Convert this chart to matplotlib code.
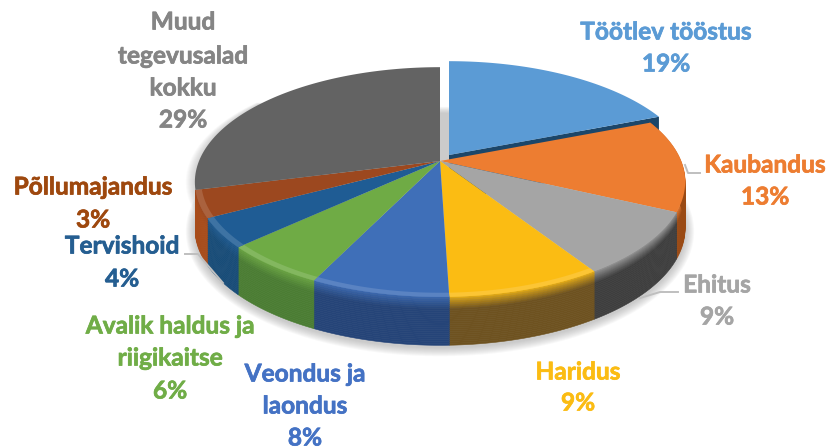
import numpy as np
import matplotlib
matplotlib.use('Agg')
import matplotlib.pyplot as plt
import matplotlib.patheffects as pe
from matplotlib.colors import to_rgb

# Data (slice sizes, the printed labels are rounded)
names = ['Töötlev tööstus', 'Kaubandus', 'Ehitus', 'Haridus', 'Veondus ja laondus',
         'Avalik haldus ja riigikaitse', 'Tervishoid', 'Põllumajandus', 'Muud tegevusalad kokku']
shares = [19, 13, 8.9, 8.6, 7.7, 5.9, 4.1, 3.8, 29]
top_colors = ['#5b9bd5', '#ed7d31', '#a5a5a5', '#fbbc13', '#3f6fb8',
              '#6fab45', '#1f5c94', '#9c481f', '#636363']
side_colors = ['#1c4669', '#9a4a14', '#3e3e3e', '#6e5220', '#254478',
               '#4b7d33', '#184c78', '#a84c1a', '#4a4a4a']
text_colors = ['#5b9bd5', '#ed7d31', '#a5a5a5', '#fbbc13', '#4472c4',
               '#70ad47', '#255e91', '#9e480e', '#858585']

# Label lines: slice index, text, centre x, centre y
label_lines = [
    (8, 'Muud', 183, 22), (8, 'tegevusalad', 183, 56), (8, 'kokku', 183, 88), (8, '29%', 183, 120),
    (0, 'Töötlev tööstus', 666, 32), (0, '19%', 666, 64),
    (1, 'Kaubandus', 765, 165), (1, '13%', 765, 197),
    (2, 'Ehitus', 717, 285), (2, '9%', 717, 317),
    (3, 'Haridus', 578, 372), (3, '9%', 578, 403),
    (4, 'Veondus ja', 305, 374), (4, 'laondus', 305, 406), (4, '8%', 305, 438),
    (5, 'Avalik haldus ja', 170, 326), (5, 'riigikaitse', 170, 358), (5, '6%', 170, 391),
    (6, 'Tervishoid', 122, 246), (6, '4%', 122, 279),
    (7, 'Põllumajandus', 93, 187), (7, '3%', 93, 220),
]
leaders = [
    ([640, 660, 678], [298, 292, 292]),
    ([185, 198, 223], [254, 254, 283]),
    ([685, 688, 700], [165, 173, 173]),
]

# Perspective of the pie in pixels
cx, cy = 440, 161
rx, ry = 241, 111
k = 0.183
ry_low, drop = 113, 46
explode = (9, -6)


def rim(t, r=1.0, low=False, off=(0, 0)):
    # t is clockwise from 12 o'clock, in radians
    w = 1 + k * r * np.cos(t)
    x = cx + rx * r * np.sin(t) / w + off[0]
    if low:
        y = cy + drop - ry_low * r * np.cos(t) / w + off[1]
    else:
        y = cy - ry * r * np.cos(t) / w + off[1]
    return x, y


def mix(a, b, f):
    a, b = np.array(to_rgb(a)), np.array(to_rgb(b))
    return tuple(a + (b - a) * f)


fig = plt.figure(figsize=(8.26, 4.48), dpi=100)
ax = fig.add_axes([0, 0, 1, 1])
ax.set_xlim(0, 826)
ax.set_ylim(448, 0)
ax.axis('off')

edges = np.cumsum([0] + shares) / sum(shares) * 2 * np.pi

# Soft shadow under the pie
tt = np.linspace(0, 2 * np.pi, 200)
for grow in np.linspace(9, 1, 9):
    x, y = rim(tt, low=True)
    x = cx + (x - cx) * (1 + grow / 245)
    y = (cy + 50) + (y - (cy + 50)) * (1 + grow / 135) + 2
    ax.fill(x, y, color='#808080', alpha=0.05, lw=0, zorder=1)
    x, y = rim(tt[100:170])
    x = cx + (x - cx) * (1 + grow / 245)
    ax.fill(x, y, color='#808080', alpha=0.04, lw=0, zorder=1)

# Exploded slice: cut face seen under its edge
off = explode
xe, ye = rim(edges[1], off=off)
xl, yl = rim(edges[1], low=True, off=off)
ax.fill([cx + off[0], xe, xl, cx + off[0]], [cy + off[1], ye, yl, cy + off[1] + drop],
        color=side_colors[0], lw=0, zorder=2)

z = 3
for i in range(len(shares)):
    off = explode if i == 0 else (0, 0)
    ts = np.linspace(edges[i], edges[i + 1], 80)

    # Side wall, fading down from the rim in bands
    if i != 0 and i != 8:
        vs = np.linspace(0, 1, 26)
        xt, yt = rim(ts, off=off)
        xb, yb = rim(ts, low=True, off=off)
        for v0, v1 in zip(vs[:-1], vs[1:]):
            f = min(v1 / 0.28, 1) ** 0.8
            c = mix(top_colors[i], side_colors[i], f)
            bx = np.r_[xt + (xb - xt) * v0, (xt + (xb - xt) * v1)[::-1]]
            by = np.r_[yt + (yb - yt) * v0, (yt + (yb - yt) * v1)[::-1]]
            ax.fill(bx, by, color=c, lw=0.4, zorder=z)
    z += 1

    # Top face
    x, y = rim(ts, off=off)
    ax.fill(np.r_[cx + off[0], x], np.r_[cy + off[1], y], color=top_colors[i], lw=0, zorder=z)
    z += 1

    # Light band just inside the front rim
    if 3 <= i <= 7:
        x0, y0 = rim(ts, 0.975, off=off)
        x1, y1 = rim(ts[::-1], 1.0, off=off)
        ax.fill(np.r_[x0, x1], np.r_[y0, y1], color=mix(top_colors[i], '#ffffff', 0.14),
                lw=0, zorder=z)
    z += 1

# Leader lines
for lx, ly in leaders:
    ax.plot(lx, ly, color='#bfbfbf', lw=1.4, zorder=z)

# Labels
for idx, txt, x, y in label_lines:
    t = ax.text(x, y, txt, color=text_colors[idx], fontsize=17.6, fontweight='bold',
                family='Lato', ha='center', va='center', zorder=z + 1)
    t.set_path_effects([pe.withStroke(linewidth=0.5, foreground=text_colors[idx])])

fig.savefig('out.png', dpi=100)
